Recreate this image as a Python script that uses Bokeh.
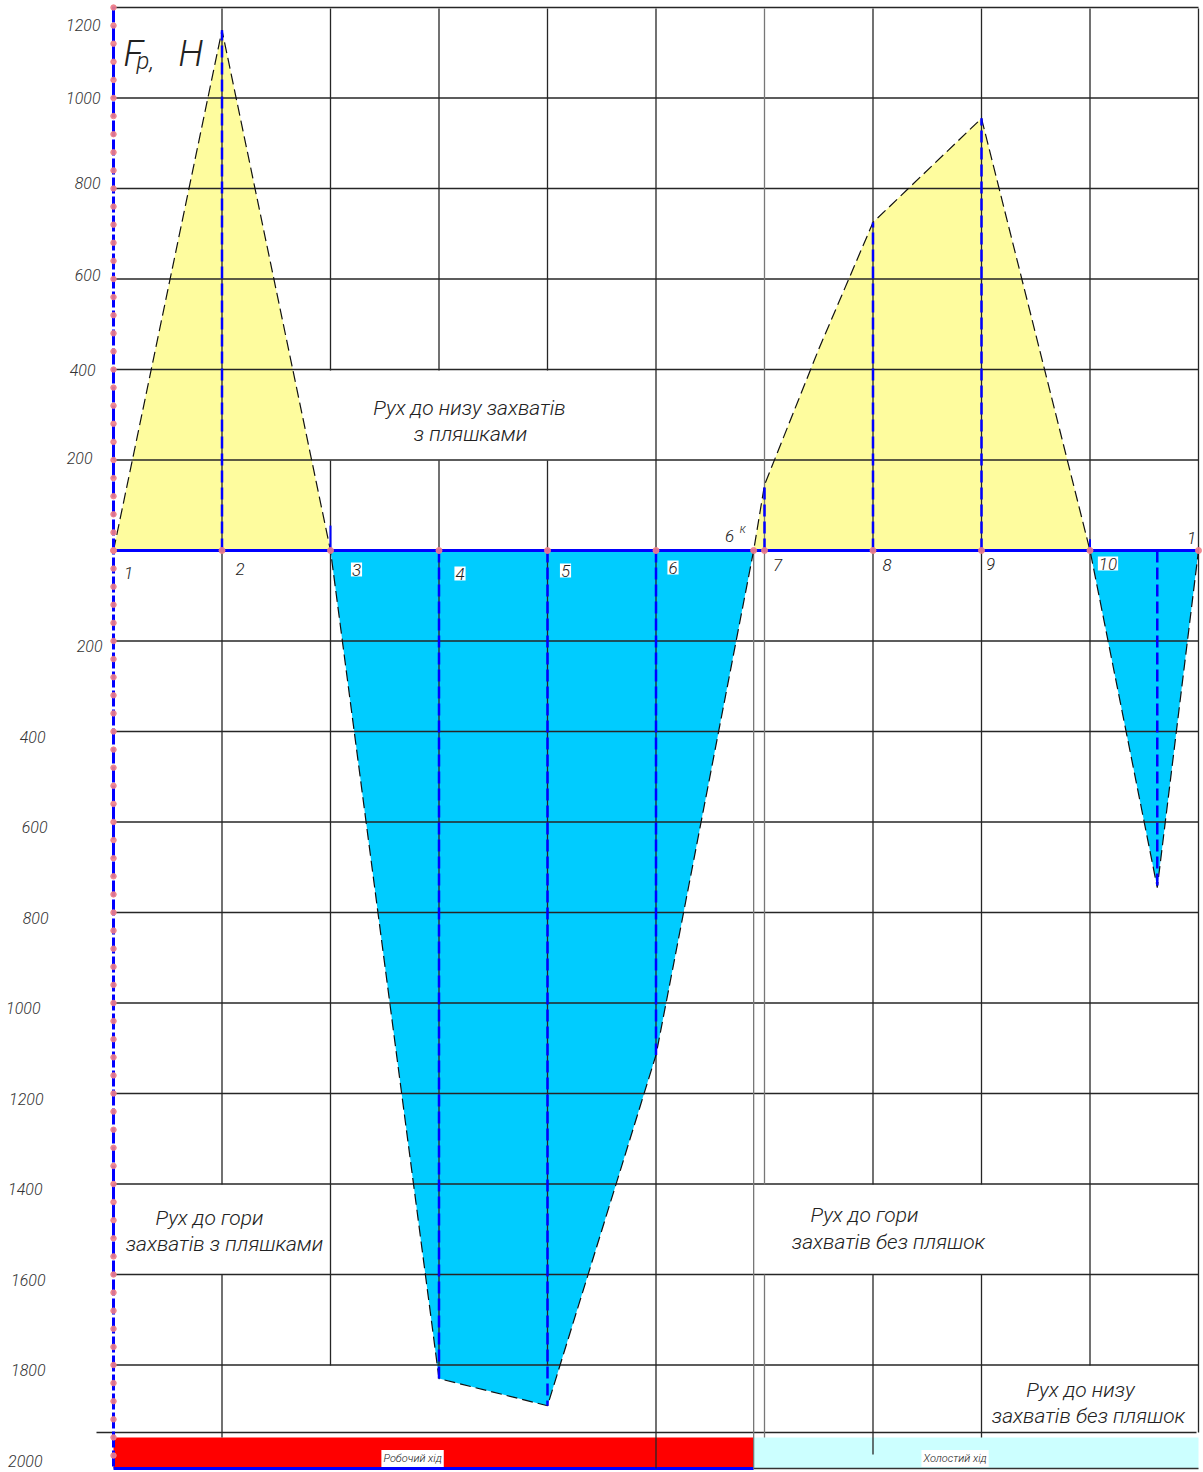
from bokeh.plotting import figure
from bokeh.models import Range1d
from bokeh.core.properties import value
from bokeh.embed import file_html
from bokeh.resources import INLINE

# ---------------- data ----------------
point_labels = ["1", "2", "3", "4", "5", "6", "6", "7", "8", "9", "10", "1"]
point_x = [0, 1, 2, 3, 4, 5, 5.9, 6, 7, 8, 9, 10]

cycle_x = [0, 1, 2, 3, 4, 5, 5.9, 6, 6.5, 7, 8, 9, 9.62, 10]
cycle_f = [0, 1150, 0, -1830, -1890, -1115, 0, 145, 445, 725, 955, 0, -745, 0]

jump_x = [2, 9]
jump_f = [55, 25]

pos_ticks = [200, 400, 600, 800, 1000, 1200]
neg_ticks = [-200, -400, -600, -800, -1000, -1200, -1400, -1600, -1800, -2000]

phase_names = ["Робочий хід", "Холостий хід"]
phase_start = [0, 5.9]
phase_end = [5.9, 10]

# ---------------- layout helpers ----------------
W, H = 1203, 1472
sx = 108.5
sy = 0.4525
XR = (-113 / sx, -113 / sx + W / sx)
YR = (-(H - 550) / sy, 550 / sy)


def X(px):
    return XR[0] + px / sx


def Y(py):
    return YR[1] - py / sy


FONT = value("Roboto Light")
TXT = "#222222"
GRID = "#262626"
BLUE = "#0000ff"
PINK = "#f08088"

p = figure(width=W, height=H, x_range=Range1d(*XR), y_range=Range1d(*YR),
           output_backend="svg", toolbar_location=None,
           x_axis_type=None, y_axis_type=None, min_border=0)
p.grid.visible = False
p.outline_line_color = None
p.background_fill_color = "white"
p.border_fill_color = "white"

# ---------------- fills ----------------
yellow_ranges = [(0, 2), (6, 11)]
blue_ranges = [(2, 6), (11, 13)]
for a, b in yellow_ranges:
    p.patch(cycle_x[a:b + 1], cycle_f[a:b + 1], fill_color="#fefc9e", line_color=None)
for a, b in blue_ranges:
    p.patch(cycle_x[a:b + 1], cycle_f[a:b + 1], fill_color="#00ccff", line_color=None)

# ---------------- bottom phase bars ----------------
p.quad(left=phase_start, right=phase_end, top=Y(1437), bottom=Y(1468),
       fill_color=["#ff0000", "#ccffff"], line_color=None)
p.segment(x0=phase_start, x1=phase_end, y0=Y(1468), y1=Y(1468),
          line_color=[BLUE, "#333333"], line_width=[3, 1.5])

# ---------------- grid ----------------
hvals = pos_ticks + neg_ticks[:-1]
p.segment(x0=[0] * len(hvals), x1=[10] * len(hvals), y0=hvals, y1=hvals,
          line_color=GRID, line_width=1.3)
p.segment(x0=[X(96)], x1=[X(1196)], y0=[Y(1432)], y1=[Y(1432)],
          line_color=GRID, line_width=1.3)

vspans = [
    [(8, 1184), (1274, 1437)],
    [(8, 370), (460, 1365)],
    [(8, 370), (460, 1365)],
    [(8, 370), (460, 1365)],
    [(8, 1468)],
    [(550, 1468)],
    [(8, 1184), (1274, 1437)],
    [(8, 1184), (1274, 1454)],
    [(8, 1184), (1274, 1437)],
    [(8, 1365)],
    [(8, 1432)],
]
vx0, vy0, vy1, vcol = [], [], [], []
for xv, spans in zip(point_x[1:], vspans):
    for t, b in spans:
        vx0.append(xv)
        vy0.append(Y(t))
        vy1.append(Y(b))
        vcol.append("#777777" if xv in (5.9, 6) else GRID)
p.segment(x0=vx0, x1=vx0, y0=vy0, y1=vy1, line_color=vcol, line_width=1.3)

# ---------------- outlines ----------------
p.line(cycle_x, cycle_f, line_color="#111111", line_width=1.2, line_dash="11 5")

dash_idx = [1, 3, 4, 5, 7, 9, 10, 12]
dx = [cycle_x[i] for i in dash_idx]
df = [cycle_f[i] for i in dash_idx]
p.segment(x0=dx, x1=dx, y0=[0] * len(dx), y1=df, line_color=BLUE,
          line_width=2.5, line_dash="12 5")
p.segment(x0=jump_x, x1=jump_x, y0=[0, 0], y1=jump_f, line_color=BLUE, line_width=2)

# axis
p.segment(x0=[0], x1=[0], y0=[Y(6)], y1=[Y(1469)], line_color=BLUE,
          line_width=3, line_dash="16 3")
# zero line
p.segment(x0=[0], x1=[10], y0=[0], y1=[0], line_color=BLUE, line_width=3)

# pink marker dots
axis_dots = list(range(1200, -2001, -40))
p.scatter(x=[0] * len(axis_dots), y=axis_dots, size=5.5, color=PINK, alpha=0.9)
p.scatter(x=point_x, y=[0] * len(point_x), size=6, color=PINK, alpha=0.9)

# ---------------- tick labels ----------------
pos_off = [-21, -18, -13, -13, -13, -13]
neg_off = [-11, -68, -66, -65, -73, -70, -71, -68, -68, -71]
pos_yoff = [-2, 0, -4, -6, 0, 17]
p.text(x=[0] * len(pos_ticks), y=pos_ticks, text=[str(abs(v)) for v in pos_ticks],
       x_offset=pos_off, y_offset=pos_yoff, text_align="right", text_baseline="middle",
       text_font=FONT, text_font_style="italic", text_font_size="16px", text_color="#333333")
p.text(x=[0] * len(neg_ticks), y=neg_ticks, text=[str(abs(v)) for v in neg_ticks],
       x_offset=neg_off, y_offset=5, text_align="right", text_baseline="middle",
       text_font=FONT, text_font_style="italic", text_font_size="16px", text_color="#333333")

# ---------------- point labels ----------------
lab_dx = [15, 18, 26, 21, 18, 17, -24, 13, 14, 9, 18, -7]
lab_dy = [22, 18, 19, 23, 20, 17, -15, 14, 14, 13, 13, -13]
lab_bg = [None, None, "white", "white", "white", "white", None, None, None, None, "white", None]
for xv, lab, ox, oy, bg in zip(point_x, point_labels, lab_dx, lab_dy, lab_bg):
    p.text(x=[xv], y=[0], text=[lab], x_offset=ox, y_offset=oy,
           text_align="center", text_baseline="middle",
           text_font=FONT, text_font_style="italic", text_font_size="17px",
           text_color=TXT, background_fill_color=bg, padding=1)
p.text(x=[point_x[6]], y=[0], text=["к"], x_offset=-11, y_offset=-22,
       text_align="center", text_baseline="middle", text_font=FONT,
       text_font_style="italic", text_font_size="12px", text_color=TXT)

# ---------------- title F_p, H ----------------
p.text(x=[X(123)], y=[Y(53)], text=["F"], text_align="left", text_baseline="alphabetic",
       text_font=FONT, text_font_style="italic", text_font_size="36px", text_color=TXT)
p.text(x=[X(136)], y=[Y(60)], text=["p,"], text_align="left", text_baseline="alphabetic",
       text_font=FONT, text_font_style="italic", text_font_size="24px", text_color=TXT)
p.text(x=[X(178)], y=[Y(53)], text=["H"], text_align="left", text_baseline="alphabetic",
       text_font=FONT, text_font_style="italic", text_font_size="36px", text_color=TXT)

# ---------------- annotations ----------------
notes = [
    ("Рух до низу захватів", 469, 407),
    ("з пляшками", 470, 433),
    ("Рух до гори", 209, 1217),
    ("захватів з пляшками", 224, 1243),
    ("Рух до гори", 864, 1214),
    ("захватів без пляшок", 888, 1241),
    ("Рух до низу", 1080, 1389),
    ("захватів без пляшок", 1088, 1415),
]
p.text(x=[X(n[1]) for n in notes], y=[Y(n[2]) for n in notes], text=[n[0] for n in notes],
       text_align="center", text_baseline="middle", text_font=FONT,
       text_font_style="italic", text_font_size="21px", text_color=TXT)

# phase names
p.text(x=[(a + b) / 2 for a, b in zip(phase_start, phase_end)], y=[Y(1458)] * 2,
       text=phase_names, x_offset=-21, text_align="center", text_baseline="middle",
       text_font=FONT, text_font_style="italic", text_font_size="11px", text_color=TXT,
       background_fill_color="white", padding=2)

open("out.html", "w").write(file_html(p, INLINE))
